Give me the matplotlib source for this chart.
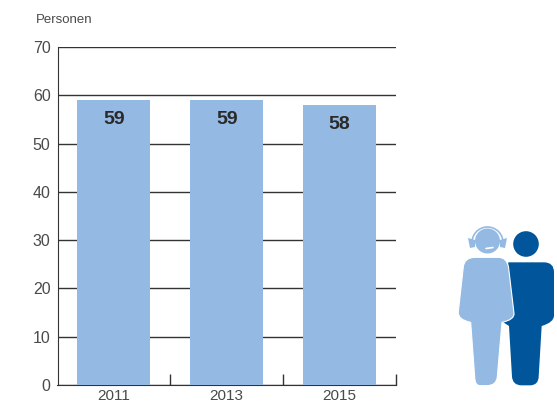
import matplotlib
matplotlib.use("Agg")
import matplotlib.pyplot as plt
from matplotlib.patches import Arc, Circle, PathPatch, Polygon
from matplotlib.path import Path

plt.rcParams["font.family"] = ["Liberation Sans", "DejaVu Sans"]

years = ["2011", "2013", "2015"]
persons = [59, 59, 58]
y_ticks = [0, 10, 20, 30, 40, 50, 60, 70]

W, H = 557, 403
LIGHT = "#94bae4"
DARK = "#00559b"
GREY = "#4a4a4a"


def rounded_shape(points):
    """Closed path from zoom-crop points, a point marked True is a curve control."""
    verts = [points[0][:2]]
    codes = [Path.MOVETO]
    curve_end = False
    for x, y, curved in points[1:]:
        verts.append((x, y))
        codes.append(Path.CURVE3 if curved or curve_end else Path.LINETO)
        curve_end = curved
    verts.append(points[0][:2])
    codes.append(Path.CURVE3 if curve_end else Path.LINETO)
    verts.append(points[0][:2])
    codes.append(Path.CLOSEPOLY)
    return Path([(440 + x / 3, 215 + y / 3) for x, y in verts], codes)


fig = plt.figure(figsize=(W / 100, H / 100), dpi=100)
ax = fig.add_axes([57.5 / W, 1 - 385 / H, 338.5 / W, 338 / H])

ax.bar(range(len(years)), persons, width=73 / 113, color=LIGHT, zorder=3)
for i, v in enumerate(persons):
    ax.text(i, v - 4.1, str(v), ha="center", va="center", fontsize=14,
            fontweight="bold", color="#2a2a2a", zorder=4)

ax.set_xlim(-0.5, 2.5)
ax.set_ylim(0, 70)
ax.set_yticks(y_ticks)
ax.yaxis.grid(True, color="#333333", lw=1.0, zorder=1)
ax.set_axisbelow(True)
ax.tick_params(axis="y", length=0, labelsize=11.5, labelcolor=GREY, pad=5)
ax.set_xticks(range(len(years)))
ax.set_xticklabels(years)
ax.tick_params(axis="x", which="major", length=0, labelsize=11, labelcolor=GREY, pad=3)
ax.set_xticks([0.5, 1.5, 2.5], minor=True)
ax.tick_params(axis="x", which="minor", direction="in", length=8, width=1, color="#333333")

for side in ["top", "right"]:
    ax.spines[side].set_visible(False)
ax.spines["left"].set_color("#333333")
ax.spines["bottom"].set_color("#333333")

fig.text(36 / W, 1 - 20 / H, "Personen", ha="left", va="center", fontsize=9.5, color=GREY)

# icon layer in pixel coordinates
icon = fig.add_axes([0, 0, 1, 1], zorder=5)
icon.set_xlim(0, W)
icon.set_ylim(H, 0)
icon.axis("off")

dark_body = rounded_shape([
    (205, 142, False), (312, 142, False), (342, 142, True), (342, 172, False),
    (342, 302, False), (342, 322, True), (305, 333, False), (296, 485, False),
    (295, 511, True), (270, 511, False), (245, 511, False), (218, 511, True),
    (216, 485, False), (207, 333, False), (190, 322, False),
])
icon.add_patch(PathPatch(dark_body, fc=DARK, ec="none"))
icon.add_patch(Circle((526, 244), 12.8, fc=DARK, ec="none"))

light_body = rounded_shape([
    (105, 127, False), (175, 127, False), (202, 127, True), (206, 160, False),
    (222, 295, False), (224, 314, True), (186, 322, False), (172, 485, False),
    (170, 512, True), (140, 512, False), (120, 512, False), (104, 512, True),
    (104, 485, False), (92, 322, False), (52, 314, True), (55, 290, False),
    (70, 155, False), (74, 127, True),
])
icon.add_patch(PathPatch(light_body, fc=LIGHT, ec="white", lw=0.8))

icon.add_patch(Circle((487.5, 241), 12.5, fc=LIGHT, ec="none"))
icon.add_patch(Arc((487.5, 242.5), 31, 31, theta1=180, theta2=360, color=LIGHT, lw=1.2))
icon.add_patch(Polygon([(468, 238), (475, 240), (475, 247), (470, 248)], fc=LIGHT, ec="none"))
icon.add_patch(Polygon([(507, 238), (500, 240), (500, 247), (505, 248)], fc=LIGHT, ec="none"))
icon.plot([486, 493], [248.5, 247.5], color="white", lw=1.2, solid_capstyle="round")

fig.savefig("out.png", dpi=100)
plt.close(fig)
